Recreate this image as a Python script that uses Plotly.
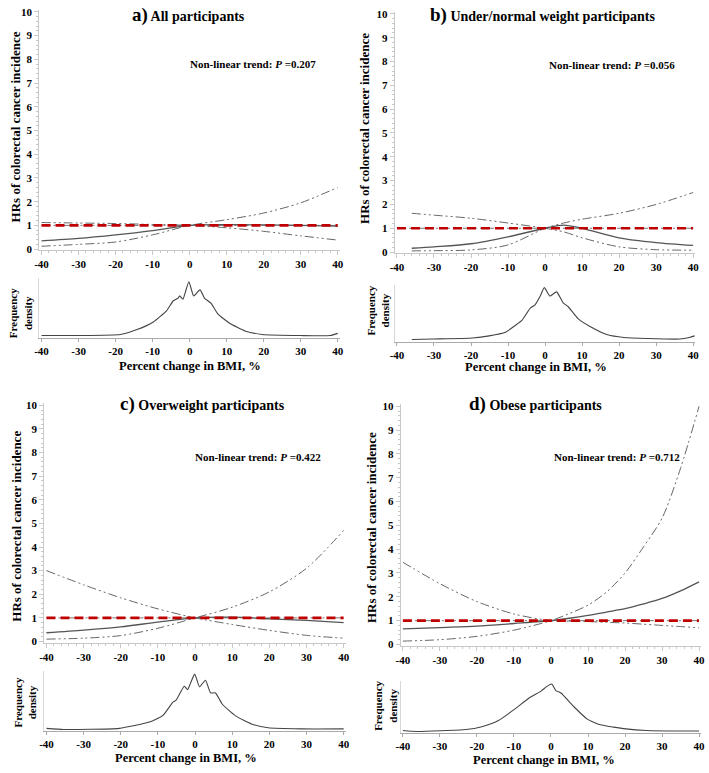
import plotly.graph_objects as go

W, H = 709, 773

# ---------------- data ----------------
a_x = [-40, -30, -20, -10, 0, 10, 20, 30, 40]
a_hr = [0.35, 0.45, 0.6, 0.78, 1.0, 1.03, 1.02, 1.0, 0.97]
a_ci1 = [1.12, 1.1, 1.08, 1.04, 1.0, 0.9, 0.75, 0.56, 0.38]
a_ci2 = [0.12, 0.2, 0.3, 0.6, 1.0, 1.24, 1.52, 1.95, 2.6]

b_x = [-36, -30, -20, -10, 0, 5, 10, 20, 30, 40]
b_hr = [0.16, 0.22, 0.35, 0.64, 1.0, 1.13, 1.0, 0.6, 0.4, 0.28]
b_ci1 = [1.63, 1.55, 1.42, 1.22, 1.0, 0.85, 0.6, 0.22, 0.1, 0.08]
b_ci2 = [0.05, 0.06, 0.09, 0.3, 1.0, 1.22, 1.38, 1.63, 2.0, 2.5]

c_x = [-40, -30, -20, -10, 0, 10, 20, 30, 40]
c_hr = [0.37, 0.48, 0.62, 0.82, 1.0, 1.03, 0.96, 0.89, 0.8]
c_ci1 = [3.0, 2.4, 1.85, 1.38, 1.0, 0.72, 0.47, 0.26, 0.14]
c_ci2 = [0.1, 0.14, 0.25, 0.56, 1.0, 1.45, 2.1, 3.1, 4.7]

d_x = [-40, -30, -20, -10, 0, 5, 10, 15, 20, 25, 30, 35, 40]
d_hr = [0.65, 0.71, 0.77, 0.88, 1.0, 1.1, 1.22, 1.36, 1.5, 1.7, 1.93, 2.25, 2.63]
d_ci1 = [3.45, 2.55, 1.8, 1.28, 1.0, 0.98, 0.96, 0.93, 0.9, 0.85, 0.8, 0.75, 0.7]
d_ci2 = [0.14, 0.2, 0.34, 0.6, 1.0, 1.3, 1.65, 2.2, 3.0, 4.1, 5.3, 7.4, 10.0]

ref_x = [-40, 40]
ref_y = [1, 1]

a_dx = [-40, -30, -18.7, -14.2, -9.8, -6.2, -4.4, -3.1, -2.7, -1.8, -1.1, -0.2, 1.1, 2.8, 4.0, 5.8, 7.6, 10.7, 15.1, 19.6, 30, 38, 40]
a_dy = [0.01, 0.01, 0.03, 0.12, 0.26, 0.47, 0.65, 0.7, 0.74, 0.68, 0.82, 1.0, 0.74, 0.85, 0.7, 0.6, 0.41, 0.24, 0.09, 0.03, 0.01, 0.01, 0.05]

b_dx = [-36, -30.2, -19.6, -15.1, -10.7, -8, -6.2, -4, -2.7, -1.3, -0.2, 1.3, 3.1, 4.9, 6.2, 8.9, 12.4, 16.9, 21.3, 27.6, 36.4, 39, 40.4]
b_dy = [0.01, 0.02, 0.04, 0.08, 0.15, 0.28, 0.38, 0.61, 0.67, 0.84, 1.0, 0.84, 0.92, 0.71, 0.64, 0.41, 0.25, 0.1, 0.05, 0.03, 0.02, 0.05, 0.08]

c_dx = [-40, -35.4, -20.4, -12.5, -8.7, -6, -5.1, -2.9, -2, -1.2, -0.1, 1.2, 2.8, 4.2, 5.5, 7.3, 10.8, 15.2, 19.7, 28.5, 40]
c_dy = [0.02, 0.0, 0.02, 0.13, 0.25, 0.49, 0.53, 0.78, 0.72, 0.84, 1.0, 0.77, 0.89, 0.66, 0.66, 0.46, 0.25, 0.1, 0.03, 0.01, 0.01]

d_dx = [-40, -36.4, -23, -18.7, -14.2, -9.8, -5.8, -2.7, -1.1, 0.2, 1.3, 2.7, 6.2, 9.8, 13.3, 16.9, 19.6, 25.8, 34.7, 40]
d_dy = [0.02, 0.0, 0.04, 0.1, 0.23, 0.47, 0.71, 0.85, 0.95, 1.0, 0.86, 0.81, 0.52, 0.26, 0.14, 0.09, 0.06, 0.02, 0.01, 0.01]

titles_letter = ["a)", "b)", "c)", "d)"]
titles_text = ["All participants", "Under/normal weight participants",
               "Overweight participants", "Obese participants"]
p_values = ["0.207", "0.056", "0.422", "0.712"]
x_ticks = [-40, -30, -20, -10, 0, 10, 20, 30, 40]
x_ticklabels = ["-40", "-30", "-20", "-10", "0", "10", "20", "30", "40"]
y_ticks = [0, 1, 2, 3, 4, 5, 6, 7, 8, 9, 10]
y_ticklabels = ["0", "1", "2", "3", "4", "5", "6", "7", "8", "9", "10"]

panels = [
    dict(x=a_x, hr=a_hr, ci1=a_ci1, ci2=a_ci2, dx=a_dx, dy=a_dy),
    dict(x=b_x, hr=b_hr, ci1=b_ci1, ci2=b_ci2, dx=b_dx, dy=b_dy),
    dict(x=c_x, hr=c_hr, ci1=c_ci1, ci2=c_ci2, dx=c_dx, dy=c_dy),
    dict(x=d_x, hr=d_hr, ci1=d_ci1, ci2=d_ci2, dx=d_dx, dy=d_dy),
]

# ---------------- layout geometry (pixels) ----------------
geo = [
    dict(xl=37, xr=337, y0=248, y10=8, db=336, dp=281,
         title=(186, 11), trend=(251, 61), ytitle=(11, 124), ftitle=(16, 313), xtitle=(187, 366)),
    dict(xl=397, xr=697, y0=251, y10=10, db=340, dp=287,
         title=(545, 11), trend=(615, 62), ytitle=(364, 126), ftitle=(378, 310), xtitle=(538, 367)),
    dict(xl=42, xr=343, y0=645, y10=406, db=734, dp=678,
         title=(200, 405), trend=(256, 458), ytitle=(12, 528), ftitle=(20, 707), xtitle=(183, 763)),
    dict(xl=403, xr=703, y0=648, y10=407, db=736, dp=688,
         title=(537, 405), trend=(620, 458), ytitle=(372, 530), ftitle=(385, 710), xtitle=(546, 765)),
]

XR = [-40.6, 40.6]
YR = [-0.05, 10.1]
DR = [-0.03, 1.06]


def xdom(g):
    s = (g["xr"] - g["xl"]) / 80.0
    left = g["xl"] + (XR[0] + 40) * s
    right = g["xl"] + (XR[1] + 40) * s
    return [left / W, right / W]


def ydom(p0, p1, v1, r):
    s = (p0 - p1) / v1
    bot = p0 - r[0] * s
    top = p0 - r[1] * s
    return [1 - bot / H, 1 - top / H]


FONT = "Liberation Serif"
AXC = "#c8c8c8"

fig = go.Figure()
layout = dict(width=W, height=H, margin=dict(l=0, r=0, t=0, b=0),
              plot_bgcolor="white", paper_bgcolor="white", showlegend=False,
              font=dict(family=FONT, color="black"))
annotations = []

ci_dash = "9px,3px,2px,3px,2px,3px"
bold = lambda s: f"<b>{s}</b>"

for i, (p, g) in enumerate(zip(panels, geo)):
    hx = "x" if i == 0 else f"x{2*i+1}"
    hy = "y" if i == 0 else f"y{2*i+1}"
    dxn = f"x{2*i+2}"
    dyn = f"y{2*i+2}"
    hxk = "xaxis" if i == 0 else f"xaxis{2*i+1}"
    hyk = "yaxis" if i == 0 else f"yaxis{2*i+1}"
    dxk = f"xaxis{2*i+2}"
    dyk = f"yaxis{2*i+2}"

    fig.add_trace(go.Scatter(x=ref_x, y=ref_y, mode="lines", xaxis=hx, yaxis=hy,
                             line=dict(color="#777", width=1, dash=ci_dash), hoverinfo="skip"))
    fig.add_trace(go.Scatter(x=p["x"], y=p["ci1"], mode="lines", xaxis=hx, yaxis=hy,
                             line=dict(color="#666", width=1, dash=ci_dash, shape="spline", smoothing=0.8)))
    fig.add_trace(go.Scatter(x=p["x"], y=p["ci2"], mode="lines", xaxis=hx, yaxis=hy,
                             line=dict(color="#666", width=1, dash=ci_dash, shape="spline", smoothing=0.8)))
    fig.add_trace(go.Scatter(x=p["x"], y=p["hr"], mode="lines", xaxis=hx, yaxis=hy,
                             line=dict(color="#555", width=1.3, shape="spline", smoothing=0.8)))
    fig.add_trace(go.Scatter(x=ref_x, y=ref_y, mode="lines", xaxis=hx, yaxis=hy,
                             line=dict(color="#c00000", width=2.6, dash="9px,5px")))
    fig.add_trace(go.Scatter(x=p["dx"], y=p["dy"], mode="lines", xaxis=dxn, yaxis=dyn,
                             line=dict(color="#444", width=1.1, shape="spline", smoothing=0.5)))

    xd = xdom(g)
    tickfont = dict(family=FONT, size=11, color="black")
    xt = dict(tickmode="array", tickvals=x_ticks, ticktext=[bold(t) for t in x_ticklabels])
    layout[hxk] = dict(domain=xd, range=XR, anchor=hy, showline=True, linecolor=AXC, linewidth=1,
                       ticks="outside", ticklen=4, tickcolor=AXC,
                       minor=dict(dtick=2, ticks="outside", ticklen=2, tickcolor=AXC),
                       showgrid=False, zeroline=False, tickfont=tickfont, **xt)
    layout[hyk] = dict(domain=ydom(g["y0"], g["y10"], 10, YR), range=YR, anchor=hx, showline=True,
                       linecolor=AXC, linewidth=1, tickmode="array", tickvals=y_ticks,
                       ticktext=[bold(t) for t in y_ticklabels],
                       ticks="outside", ticklen=4, tickcolor=AXC,
                       minor=dict(dtick=0.2, ticks="outside", ticklen=2, tickcolor=AXC),
                       showgrid=False, zeroline=False, tickfont=tickfont)
    layout[dxk] = dict(domain=xd, range=XR, anchor=dyn, showline=True, linecolor="#aaa", linewidth=1,
                       ticks="outside", ticklen=3, tickcolor="#aaa",
                       showgrid=False, zeroline=False, tickfont=tickfont, **xt)
    layout[dyk] = dict(domain=ydom(g["db"], g["dp"], 1, DR), range=DR, anchor=dxn, showline=True,
                       linecolor="#d8d8d8", linewidth=1, showticklabels=False, ticks="",
                       showgrid=False, zeroline=False)

    def ann(text, xy, size, **kw):
        d = dict(text=text, x=xy[0] / W, y=1 - xy[1] / H, xref="paper", yref="paper",
                 showarrow=False, xanchor="center", yanchor="middle",
                 font=dict(family=FONT, size=size, color="black"))
        d.update(kw)
        annotations.append(d)

    ann(f"<b><span style='font-size:19px'>{titles_letter[i]}</span> {titles_text[i]}</b>", g["title"], 14)
    ann(f"<b>Non-linear trend: <i>P</i> =" + p_values[i] + "</b>", g["trend"], 11)
    ann("<b>HRs of colorectal cancer incidence</b>", g["ytitle"], 13, textangle=-90)
    ann("<b>Frequency<br>density</b>", g["ftitle"], 11, textangle=-90)
    ann("<b>Percent change in BMI, %</b>", g["xtitle"], 12.5)

layout["annotations"] = annotations
fig.update_layout(**layout)
fig.write_html("out.html", config={"displayModeBar": False},
               post_script="document.body.style.margin='0';document.body.style.padding='0';"
                           "document.body.style.overflow='hidden';")
